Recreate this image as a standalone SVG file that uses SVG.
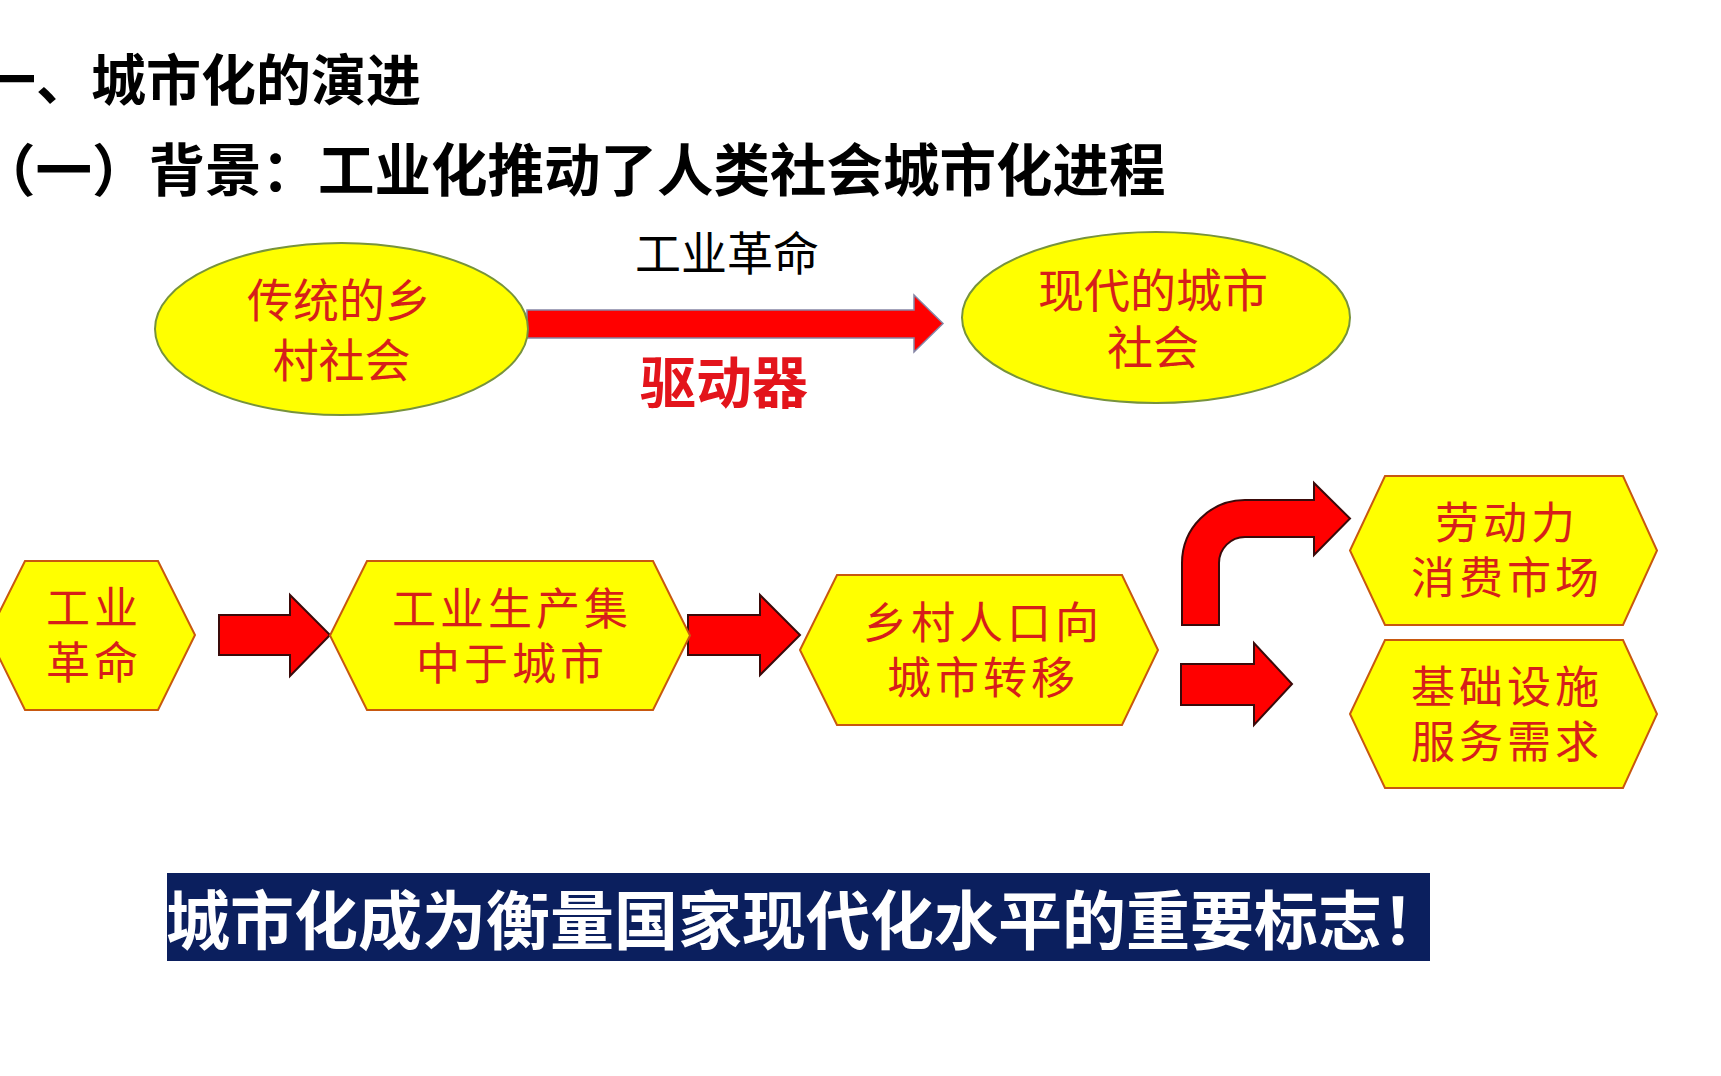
<svg xmlns="http://www.w3.org/2000/svg" width="1721" height="1076" viewBox="0 0 1721 1076">
<style>
.title{font-family:"Noto Sans CJK SC","Noto Sans",sans-serif;font-weight:700;fill:#000}
.ell{fill:#FFFF00;stroke:#77933C;stroke-width:2}
.hex{fill:#FFFF00;stroke:#C8580F;stroke-width:2}
.t{font-family:"Noto Sans CJK SC",sans-serif;font-weight:400;fill:#D61F1A;text-anchor:middle}
.ht{font-size:44px;letter-spacing:4px}
.et{font-size:46px}
.arr{fill:#FF0000;stroke:#3A0A0A;stroke-width:2;stroke-linejoin:miter}
.big{fill:#FF0000;stroke:#8585A5;stroke-width:1.5}
</style>
<rect width="1721" height="1076" fill="#FFFFFF"/>
<g id="titles">
<text class="title" x="-19" y="100" font-size="55">一、城市化的演进</text>
<text class="title" x="-21" y="191" font-size="56.5">（一）背景：工业化推动了人类社会城市化进程</text>
</g>
<g id="connectors">
<path class="big" d="M527,310 H914 V295 L943,323.5 L914,352 V338 H527 Z"/>
<path class="arr" d="M219,615 H290 V595 L330,635 L290,676 V655 H219 Z"/>
<path class="arr" d="M688,615 H760 V595 L800,635 L760,675 V655 H688 Z"/>
<path class="arr" d="M1182,625 V563 A63,63 0 0 1 1245,500 H1314 V483 L1350,518.5 L1314,555 V537 H1245 A26,26 0 0 0 1219,563 V625 Z"/>
<path class="arr" d="M1181,664 H1254 V643 L1292,684 L1254,725 V705 H1181 Z"/>
<text x="727" y="270" font-family="Noto Sans CJK SC,sans-serif" font-size="46" text-anchor="middle" fill="#000">工业革命</text>
<text x="724" y="403" font-family="Noto Sans CJK SC,sans-serif" font-size="56" font-weight="700" text-anchor="middle" fill="#E3141B">驱动器</text>
</g>
<g id="node-rural">
<ellipse class="ell" cx="341.5" cy="329" rx="186.5" ry="86"/>
<text class="t et"><tspan x="339" y="317">传统的乡</tspan><tspan x="341.5" y="377">村社会</tspan></text>
</g>
<g id="node-urban">
<ellipse class="ell" cx="1156" cy="317.5" rx="194" ry="85.5"/>
<text class="t et"><tspan x="1153" y="307">现代的城市</tspan><tspan x="1153" y="364">社会</tspan></text>
</g>
<g id="node-industrial-revolution">
<polygon class="hex" points="-12,635 25,561 158,561 195,635 158,710 25,710"/>
<text class="t ht"><tspan x="94" y="624">工业</tspan><tspan x="94" y="679">革命</tspan></text>
</g>
<g id="node-industry-concentration">
<polygon class="hex" points="330,635.5 367,561 653,561 690,635.5 653,710 367,710"/>
<text class="t ht"><tspan x="512" y="624.5">工业生产集</tspan><tspan x="512" y="679.5">中于城市</tspan></text>
</g>
<g id="node-migration">
<polygon class="hex" points="800,650 837,575 1122,575 1158,650 1122,725 837,725"/>
<text class="t ht"><tspan x="983" y="639">乡村人口向</tspan><tspan x="983" y="694">城市转移</tspan></text>
</g>
<g id="node-labor">
<polygon class="hex" points="1350,550.5 1385,476 1623,476 1657,550.5 1623,625 1385,625"/>
<text class="t ht"><tspan x="1507" y="539">劳动力</tspan><tspan x="1507" y="594">消费市场</tspan></text>
</g>
<g id="node-infrastructure">
<polygon class="hex" points="1350,714 1385,640 1623,640 1657,714 1623,788 1385,788"/>
<text class="t ht"><tspan x="1507" y="703">基础设施</tspan><tspan x="1507" y="758">服务需求</tspan></text>
</g>
<g id="banner">
<rect x="167" y="873" width="1263" height="88" fill="#0B1F5E"/>
<text x="166" y="944" font-family="Noto Sans CJK SC,sans-serif" font-size="64" font-weight="700" fill="#FFFFFF">城市化成为衡量国家现代化水平的重要标志！</text>
</g>
</svg>
